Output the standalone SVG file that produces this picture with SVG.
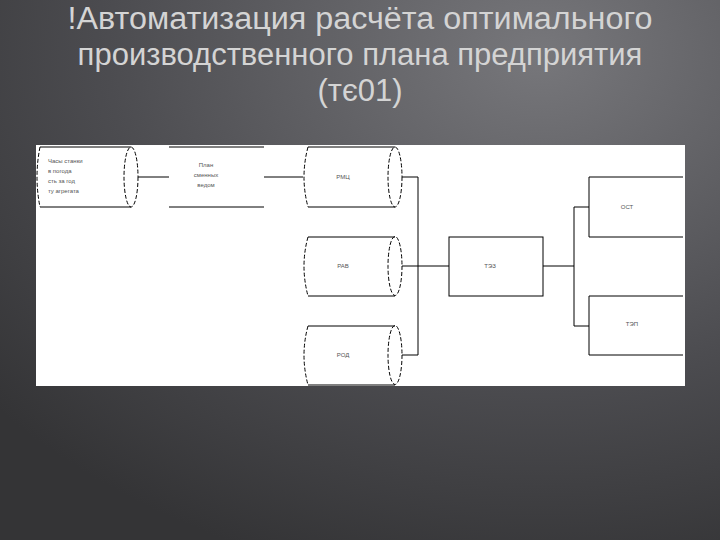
<svg xmlns="http://www.w3.org/2000/svg" width="720" height="540" viewBox="0 0 720 540">
<defs>
<radialGradient id="bg" cx="0.75" cy="0.1" r="1">
<stop offset="0" stop-color="#77777b"/><stop offset="0.6" stop-color="#4c4c50"/><stop offset="1" stop-color="#343436"/>
</radialGradient>
<style>
.t{font-family:"Liberation Sans",Arial,sans-serif;font-size:31px;fill:#d4d4d4;text-anchor:middle}
.s{font-family:"Liberation Sans",Arial,sans-serif;font-size:6px;fill:#555;text-anchor:middle}
.a{text-anchor:start}
.l{fill:none;stroke:#000;stroke-width:1}
.d{fill:none;stroke:#000;stroke-width:1;stroke-dasharray:4 2}
</style>
</defs>
<rect width="720" height="540" fill="url(#bg)"/>
<text class="t" x="360" y="29" textLength="585" lengthAdjust="spacingAndGlyphs">!Автоматизация расчёта оптимального</text>
<text class="t" x="360" y="65">производственного плана предприятия</text>
<text class="t" x="360" y="101">(тє01)</text>
<rect x="36" y="145" width="649" height="241" fill="#fff"/>
<g id="connectors" class="l">
<path d="M138 177H169M264 177H303M402 177H418M402 266H418M402 355H418M418 177V355M418 266H449M543 266H574M574 207V326M574 207H589M574 326H589"/>
</g>
<g id="n1"><path class="l" d="M40 147H131M40 207H131"/><ellipse class="d" cx="131" cy="177" rx="7" ry="30"/><path class="d" d="M40 147Q34 177 40 207"/>
<text class="s a" x="48" y="163">Часы станки</text><text class="s a" x="48" y="173">в погода</text><text class="s a" x="48" y="183">сть за год</text><text class="s a" x="48" y="193">ту агрегата</text></g>
<g id="n2"><path class="l" d="M169 147H264M169 207H264"/><text class="s" x="206" y="167">План</text><text class="s" x="206" y="177">сменных</text><text class="s" x="206" y="187">ведом</text></g>
<g id="n3"><path class="l" d="M308 147H395M308 207H395"/><ellipse class="d" cx="395" cy="177" rx="7" ry="30"/><path class="d" d="M308 147Q300 177 308 207"/><text class="s" x="343" y="179">РМЦ</text></g>
<g id="n4"><path class="l" d="M308 237H395M308 296H395"/><ellipse class="d" cx="395" cy="266" rx="7" ry="29.5"/><path class="d" d="M308 237Q300 266 308 296"/><text class="s" x="343" y="268">РАВ</text></g>
<g id="n5"><path class="l" d="M308 326H395M308 385H395"/><ellipse class="d" cx="395" cy="355" rx="7" ry="29.5"/><path class="d" d="M308 326Q300 355 308 385"/><text class="s" x="343" y="357">РОД</text></g>
<g id="n6"><rect class="l" x="449" y="237" width="94" height="59"/><text class="s" x="490" y="268">ТЭЗ</text></g>
<g id="n7"><path class="l" d="M683 177H589V237H683"/><text class="s" x="627" y="209">ОСТ</text></g>
<g id="n8"><path class="l" d="M683 296H589V355H683"/><text class="s" x="632" y="326">ТЭП</text></g>
</svg>
